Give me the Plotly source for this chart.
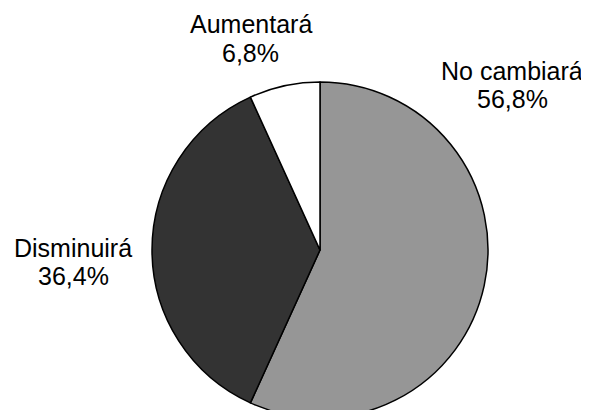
import plotly.graph_objects as go

labels = ["No cambiará", "Disminuirá", "Aumentará"]
values = [56.8, 36.4, 6.8]
colors = ["#969696", "#333333", "#ffffff"]

# Page is rendered with an 8px body margin; figure coords = page coords - 8
OFF = 8
W, H = 589, 430
cx, cy, r = 320, 250, 168  # pie centre / radius in page pixels

fig = go.Figure(go.Pie(
    labels=labels,
    values=values,
    sort=False,
    direction="clockwise",
    rotation=0,
    textinfo="none",
    hoverinfo="label+percent",
    marker=dict(colors=colors, line=dict(color="#000000", width=1.5)),
    showlegend=False,
    domain=dict(
        x=[(cx - r - OFF) / W, (cx + r - OFF) / W],
        y=[1 - (cy + r - OFF) / H, 1 - (cy - r - OFF) / H],
    ),
))

def fmt(v):
    return f"{v:.1f}".replace(".", ",") + "%"

# page-pixel centres (x, y of first line, y of second line)
label_pos = {
    "Aumentará": (250.5, 24, 52.5),
    "No cambiará": (512, 70.5, 99),
    "Disminuirá": (73, 247.5, 276),
}
font = dict(family="Liberation Sans, Arial, sans-serif", size=25, color="#000000")
for lab, val in zip(labels, values):
    px, py1, py2 = label_pos[lab]
    for txt, py in ((lab, py1), (fmt(val), py2)):
        fig.add_annotation(
            x=(px - OFF) / W, y=1 - (py - OFF) / H, xref="paper", yref="paper",
            text=txt, showarrow=False,
            xanchor="center", yanchor="middle", align="center",
            font=font,
        )

fig.update_layout(
    width=W, height=H,
    margin=dict(l=0, r=0, t=0, b=0),
    paper_bgcolor="#ffffff",
    plot_bgcolor="#ffffff",
)

fig.write_html("out.html")
